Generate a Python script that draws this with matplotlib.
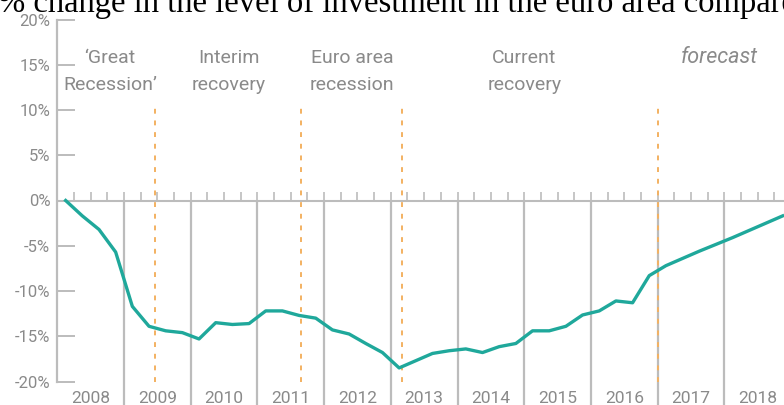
import numpy as np
import matplotlib
matplotlib.use("Agg")
import matplotlib.pyplot as plt

# quarterly change in euro area investment vs 2008Q1, %
years = list(range(2008, 2019))
change = [0.0, -1.7, -3.2, -5.7,
          -11.7, -13.9, -14.4, -14.6,
          -15.3, -13.5, -13.7, -13.6,
          -12.2, -12.2, -12.7, -13.0,
          -14.3, -14.75, -15.8, -16.8,
          -18.5, -17.7, -16.9, -16.6,
          -16.4, -16.8, -16.15, -15.8,
          -14.4, -14.4, -13.9, -12.65,
          -12.2, -11.1, -11.3, -8.3,
          -7.2, -6.4, -5.6, -4.85,
          -4.1, -3.3, -2.5, -1.7]

# phase boundaries (in years) and phase captions
phase_breaks = [2009.47, 2011.65, 2013.17, 2017.0]
phase_labels = ["\u2018Great\nRecession\u2019", "Interim\nrecovery",
                "Euro area\nrecession", "Current\nrecovery"]
phase_x = [2008.79, 2010.57, 2012.42, 2015.0]
yticks = [-20, -15, -10, -5, 0, 5, 10, 15, 20]

teal = "#1fa89b"
orange = "#f3b161"
grid_grey = "#bcbcbc"
text_grey = "#8a8a8a"

W, H = 784, 405
fig = plt.figure(figsize=(W / 100, H / 100), dpi=100)

left = 57.3
top_px, bot_px = 19.5, 381.5
ax = fig.add_axes([left / W, 1 - bot_px / H, 1 - left / W, (bot_px - top_px) / H])
ax.set_xlim(2008, 2008 + (W - left) / 66.7)
ax.set_ylim(-20, 20)

for s in ["top", "right", "bottom"]:
    ax.spines[s].set_visible(False)
ax.spines["left"].set_color(grid_grey)
ax.spines["left"].set_linewidth(1.6)

ax.set_yticks(yticks)
ax.set_yticklabels([f"{v}%" for v in yticks])
ax.tick_params(axis="y", direction="in", length=13, width=1.4, color=grid_grey,
               labelcolor=text_grey, labelsize=12, pad=5)
ax.set_xticks([])
for lab in ax.get_yticklabels():
    lab.set_fontfamily("Roboto")

# zero line with small quarter ticks
ax.axhline(0, color=grid_grey, lw=1.5, zorder=1)
qticks = np.arange(2008, 2019.01, 0.25)
ax.vlines(qticks, 0, 0.9, color=grid_grey, lw=1.2, zorder=1)

# year separators run down through the label row
ax.vlines(years[1:], -22.7, 0, color=grid_grey, lw=1.6, clip_on=False, zorder=1)
for y in years:
    ax.text(y + 0.5, -21.0, str(y), ha="center", va="top", fontsize=12.5,
            color=text_grey, family="Roboto", clip_on=False)

# dotted phase boundaries
ax.vlines(phase_breaks, -20, 10.4, color=orange, lw=1.4,
          linestyles=(0, (2.5, 3.5)), zorder=2)

for x, lab in zip(phase_x, phase_labels):
    ax.text(x, 14.3, lab, ha="center", va="center", fontsize=14,
            color=text_grey, family="Roboto", linespacing=1.65)
ax.text(2017.92, 15.8, "forecast", ha="center", va="center", fontsize=15.5,
        color=text_grey, family="Roboto", style="italic")

qx = [y + (q + 0.5) / 4 for y in years for q in range(4)]
ax.plot(qx, change, color=teal, lw=2.4, solid_joinstyle="round", zorder=3)

fig.text(-0.003, 1 - 12.0 / H,
         "% change in the level of investment in the euro area compared to 2008Q1",
         family="Liberation Serif", fontsize=23.5, va="baseline", ha="left")

fig.savefig("out.png", dpi=100)
